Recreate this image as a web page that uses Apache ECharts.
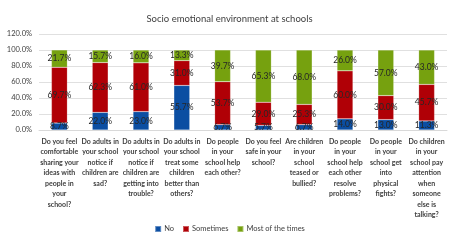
<!DOCTYPE html>
<html>
<head>
<meta charset="utf-8">
<script src="https://cdn.jsdelivr.net/npm/echarts@6/dist/echarts.min.js"></script>
<style>
  html, body { margin: 0; padding: 0; background: #fff; }
  #chart { width: 459px; height: 248px; }
</style>
</head>
<body>
<div id="chart"></div>
<script>
// questions on the x axis
const categories = [
  "Do you feel\ncomfortable\nsharing your\nideas with\npeople in\nyour\nschool?",
  "Do adults in\nyour school\nnotice if\nchildren are\nsad?",
  "Do adults in\nyour school\nnotice if\nchildren are\ngetting into\ntrouble?",
  "Do adults in\nyour school\ntreat some\nchildren\nbetter than\nothers?",
  "Do people\nin your\nschool help\neach other?",
  "Do you feel\nsafe in your\nschool?",
  "Are children\nin your\nschool\nteased or\nbullied?",
  "Do people\nin your\nschool help\neach other\nresolve\nproblems?",
  "Do people\nin your\nschool get\ninto\nphysical\nfights?",
  "Do children\nin your\nschool pay\nattention\nwhen\nsomeone\nelse is\ntalking?"
]
const noValues = [8.7, 22.0, 23.0, 55.7, 6.7, 5.7, 6.7, 14.0, 13.0, 11.3]
const sometimesValues = [69.7, 62.3, 61.0, 31.0, 53.7, 29.0, 25.3, 60.0, 30.0, 45.7]
const mostValues = [21.7, 15.7, 16.0, 13.3, 39.7, 65.3, 68.0, 26.0, 57.0, 43.0]

const font = "Lato, 'Open Sans', sans-serif"
const textColor = "#404040"

function barSeries(name, data, color) {
  return {
    name: name,
    type: "bar",
    stack: "total",
    barWidth: "39%",
    data: data,
    itemStyle: { color: color, borderColor: "rgba(255,255,255,0.35)", borderWidth: 0.5 },
    label: {
      show: true,
      position: "inside",
      formatter: p => p.value.toFixed(1) + "%",
      color: "#262626",
      fontSize: 8.5,
      fontFamily: font
    }
  }
}

let myChart = echarts.init(document.getElementById("chart"))
let option = {
  animation: false,
  title: {
    text: "Socio emotional environment at schools",
    left: "center",
    top: 9,
    textStyle: { fontSize: 9.5, fontWeight: "normal", color: textColor, fontFamily: font }
  },
  legend: {
    bottom: 10,
    left: "center",
    itemWidth: 6,
    itemHeight: 6,
    itemGap: 8,
    icon: "rect",
    textStyle: { fontSize: 7.5, color: textColor, fontFamily: font, padding: [0, 0, 0, -2] },
    data: ["No", "Sometimes", "Most of the times"]
  },
  grid: { left: 39, right: 12, top: 34, bottom: 118, containLabel: false },
  xAxis: {
    type: "category",
    data: categories,
    axisTick: { show: false },
    axisLine: { lineStyle: { color: "#d9d9d9" } },
    axisLabel: {
      interval: 0,
      fontSize: 7,
      fontWeight: "bold",
      lineHeight: 10.5,
      color: textColor,
      fontFamily: font,
      margin: 6
    }
  },
  yAxis: {
    type: "value",
    min: 0,
    max: 120,
    interval: 20,
    axisLine: { show: false },
    axisTick: { show: false },
    splitLine: { lineStyle: { color: "#e0e0e0" } },
    axisLabel: {
      formatter: v => v.toFixed(1) + "%",
      fontSize: 7.5,
      color: textColor,
      fontFamily: font,
      margin: 7
    }
  },
  series: [
    barSeries("No", noValues, "#0b4ea2"),
    barSeries("Sometimes", sometimesValues, "#b00006"),
    barSeries("Most of the times", mostValues, "#76a10f")
  ]
}
myChart.setOption(option)
</script>
</body>
</html>
